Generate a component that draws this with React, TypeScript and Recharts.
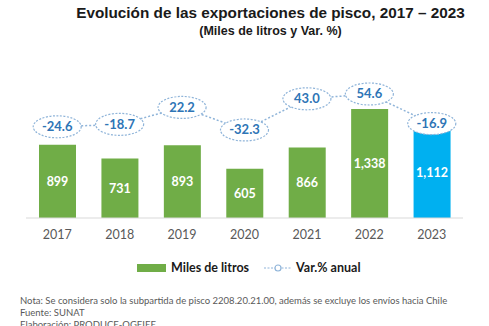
import { ComposedChart, Bar, Line, XAxis, YAxis, Cell, LabelList } from 'recharts';

const years = ['2017', '2018', '2019', '2020', '2021', '2022', '2023'];
const litros = [899, 731, 893, 605, 866, 1338, 1112];
const variacion = [-24.6, -18.7, 22.2, -32.3, 43.0, 54.6, -16.9];

const data = years.map((year, i) => ({ year, litros: litros[i], variacion: variacion[i] }));

const GREEN = '#70ad47';
const BLUE = '#00b0f0';
const LINE = '#8fb4d9';
const LABEL_BLUE = '#2e75b6';
const GRAY = '#595959';
const FONT = 'Lato, "Open Sans", sans-serif';

function VarDot(props: any) {
  const { cx, cy, value } = props;
  if (cx == null || cy == null) return null;
  return (
    <g>
      <ellipse cx={cx} cy={cy} rx={24} ry={11} fill="#fff" stroke={LINE} strokeWidth={1.2} strokeDasharray="2 1.5" />
      <text x={cx} y={cy} dy={4.5} textAnchor="middle" fill={LABEL_BLUE} fontSize={13} fontWeight={700} fontFamily={FONT}>
        {Number(value).toFixed(1)}
      </text>
    </g>
  );
}

export default function App() {
  return (
    <div style={{ position: 'absolute', left: 0, top: 0, width: 489, height: 326, background: '#fff', overflow: 'hidden' }}>
      <div style={{ position: 'absolute', left: 0, top: 4, width: 541, textAlign: 'center', fontFamily: '"Liberation Sans", Arial, sans-serif', fontWeight: 700, fontSize: 15.3, color: '#1a1a1a' }}>
        Evolución de las exportaciones de pisco, 2017 – 2023
      </div>
      <div style={{ position: 'absolute', left: 0, top: 24, width: 541, textAlign: 'center', fontFamily: '"Liberation Sans", Arial, sans-serif', fontWeight: 700, fontSize: 12.5, color: '#1a1a1a' }}>
        (Miles de litros y Var. %)
      </div>

      <div style={{ position: 'absolute', left: 0, top: 0 }}>
        <ComposedChart width={489} height={250} data={data} margin={{ top: 80, right: 26, bottom: 0, left: 26 }}>
          <XAxis
            dataKey="year"
            height={32}
            axisLine={{ stroke: '#d9d9d9' }}
            tickLine={false}
            tick={{ fill: GRAY, fontSize: 12.5, fontFamily: FONT }}
            tickMargin={6}
          />
          <YAxis yAxisId="bar" hide domain={[0, 1693]} />
          <YAxis yAxisId="var" hide domain={[-244.9, 88.4]} />
          <Bar yAxisId="bar" dataKey="litros" barSize={37} isAnimationActive={false}>
            {data.map((d, i) => (
              <Cell key={d.year} fill={i === data.length - 1 ? BLUE : GREEN} />
            ))}
            <LabelList
              dataKey="litros"
              position="center"
              formatter={(v: any) => Number(v).toLocaleString('en-US')}
              style={{ fill: '#fff', fontSize: 12.5, fontWeight: 700, fontFamily: FONT }}
            />
          </Bar>
          <Line
            yAxisId="var"
            dataKey="variacion"
            stroke={LINE}
            strokeWidth={1.5}
            strokeDasharray="2 2"
            dot={<VarDot />}
            activeDot={false}
            isAnimationActive={false}
          />
        </ComposedChart>
      </div>

      <div style={{ position: 'absolute', left: 137, top: 260, display: 'flex', alignItems: 'center', fontFamily: FONT, fontWeight: 700, fontSize: 12.5, color: '#1a1a1a' }}>
        <span style={{ display: 'inline-block', width: 29, height: 8, background: GREEN, marginRight: 5 }} />
        <span>Miles de litros</span>
        <svg width={28} height={10} style={{ marginLeft: 15, marginRight: 4 }}>
          <line x1={0} y1={5} x2={28} y2={5} stroke={LINE} strokeWidth={1.2} strokeDasharray="2 1.5" />
          <circle cx={14} cy={5} r={3} fill="#fff" stroke={LINE} strokeWidth={1.2} />
        </svg>
        <span>Var.% anual</span>
      </div>

      <div style={{ position: 'absolute', left: 20, top: 295, fontFamily: FONT, fontSize: 9.5, color: GRAY, lineHeight: '12px' }}>
        <div>Nota: Se considera solo la subpartida de pisco 2208.20.21.00, además se excluye los envíos hacia Chile</div>
        <div>Fuente: SUNAT</div>
        <div>Elaboración: PRODUCE-OGEIEE</div>
      </div>
    </div>
  );
}
